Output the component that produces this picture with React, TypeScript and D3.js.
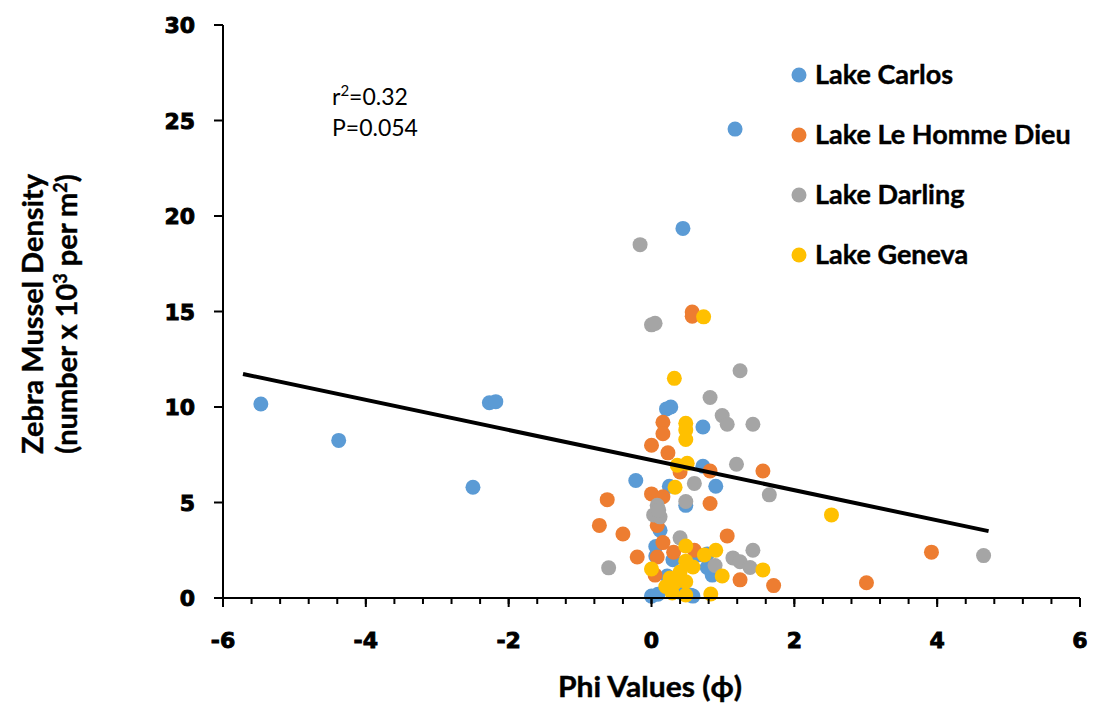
import React from "react";
import * as d3 from "d3";

type Pt = [number, number];

// Phi value vs. density (x10^3 per m^2) for each lake
const lakeCarlos: Pt[] = [
  [-5.47, 10.16], [-4.38, 8.25], [-2.5, 5.8], [-2.27, 10.22], [-2.18, 10.28],
  [1.17, 24.55], [0.44, 19.35], [0.21, 9.9], [0.27, 10.0], [-0.22, 6.15],
  [0.72, 8.95], [0.72, 6.9], [0.9, 5.85], [0.25, 5.85], [0.48, 4.85],
  [0.12, 3.55], [0.06, 2.7], [0.3, 2.0], [0.65, 2.25], [0.85, 1.2],
  [0.22, 1.15], [0.0, 0.1], [0.09, 0.2], [0.58, 0.1], [0.4, 0.3],
  [0.78, 2.3], [0.55, 0.15], [0.06, 2.2], [0.78, 1.6],
];

const lakeLeHommeDieu: Pt[] = [
  [0.57, 14.97], [0.57, 14.75], [0.16, 9.2], [0.16, 8.6], [0.0, 8.0],
  [0.23, 7.6], [0.4, 6.6], [0.82, 6.65], [1.56, 6.65], [-0.62, 5.15],
  [0.0, 5.45], [0.16, 5.3], [0.82, 4.95], [-0.73, 3.8], [-0.4, 3.35],
  [0.08, 3.8], [1.06, 3.25], [-0.2, 2.15], [0.16, 2.9], [0.08, 2.15],
  [0.31, 2.4], [1.24, 0.95], [1.71, 0.65], [3.92, 2.4], [3.01, 0.8],
  [0.05, 1.2], [0.6, 2.5],
];

const lakeDarling: Pt[] = [
  [-0.16, 18.5], [0.0, 14.3], [0.05, 14.38], [1.24, 11.9], [0.82, 10.5],
  [0.99, 9.55], [1.06, 9.1], [1.42, 9.1], [1.19, 7.0], [1.65, 5.4],
  [0.6, 6.0], [0.48, 5.05], [0.08, 4.85], [0.03, 4.35], [0.12, 4.25],
  [0.1, 4.6], [0.4, 3.15], [-0.6, 1.58], [1.42, 2.5], [1.14, 2.1],
  [1.24, 1.9], [1.38, 1.6], [0.89, 1.7], [4.65, 2.22],
];

const lakeGeneva: Pt[] = [
  [0.73, 14.72], [0.32, 11.5], [0.48, 9.15], [0.48, 8.8], [0.48, 8.3],
  [0.36, 6.95], [0.5, 7.05], [0.33, 5.8], [2.52, 4.35], [0.48, 2.72],
  [0.9, 2.5], [0.74, 2.25], [0.0, 1.52], [0.48, 1.93], [0.58, 1.62],
  [1.56, 1.47], [0.99, 1.15], [0.4, 1.36], [0.26, 1.05], [0.33, 0.8],
  [0.48, 0.85], [0.29, 0.26], [0.48, 0.16], [0.83, 0.21], [0.2, 0.6],
];

const seriesNames = ["Lake Carlos", "Lake Le Homme Dieu", "Lake Darling", "Lake Geneva"];
const seriesColors = ["#5B9BD5", "#ED7D31", "#A5A5A5", "#FFC000"];
const seriesData = [lakeCarlos, lakeLeHommeDieu, lakeDarling, lakeGeneva];

// Linear fit across all lakes
const trendSlope = -0.788;
const trendIntercept = 7.22;
const trendRange = [-5.72, 4.72];

const xTicks = [-6, -4, -2, 0, 2, 4, 6];
const yTicks = [0, 5, 10, 15, 20, 25, 30];
const xMinorStep = 0.4;

export default function App() {
  const width = 1097;
  const height = 706;
  const x = d3.scaleLinear().domain([-6, 6]).range([223, 1080]);
  const y = d3.scaleLinear().domain([0, 30]).range([598, 25]);

  const minorTicks = d3.range(-6, 6 + 1e-9, xMinorStep);
  const trendLine = d3
    .line<number>()
    .x((d) => x(d))
    .y((d) => y(trendSlope * d + trendIntercept));

  const tickFont = "'DejaVu Sans', Verdana, sans-serif";
  const labelFont = "Lato, 'Open Sans', sans-serif";

  return (
    <svg
      width={width}
      height={height}
      style={{ position: "absolute", left: 0, top: 0, background: "#fff" }}
    >
      {/* points */}
      {seriesData.map((pts, si) => (
        <g key={si} fill={seriesColors[si]}>
          {pts.map((p, i) => (
            <circle key={i} cx={x(p[0])} cy={y(p[1])} r={7.5} />
          ))}
        </g>
      ))}

      {/* trendline */}
      <path d={trendLine(trendRange) ?? ""} stroke="#000" strokeWidth={4} fill="none" />

      {/* axes */}
      <g stroke="#000" strokeWidth={2}>
        <line x1={x(-6)} x2={x(6)} y1={y(0)} y2={y(0)} />
        <line x1={x(-6)} x2={x(-6)} y1={y(0)} y2={y(30)} />
        {minorTicks.map((t, i) => (
          <line key={"m" + i} x1={x(t)} x2={x(t)} y1={y(0)} y2={y(0) + 6} />
        ))}
        {xTicks.map((t) => (
          <line key={"x" + t} x1={x(t)} x2={x(t)} y1={y(0)} y2={y(0) + 9} />
        ))}
        {yTicks.map((t) => (
          <line key={"y" + t} x1={x(-6) - 9} x2={x(-6)} y1={y(t)} y2={y(t)} />
        ))}
      </g>

      {/* tick labels */}
      <g
        fontFamily={tickFont}
        fontWeight="bold"
        fontSize={22}
        fill="#000"
        stroke="#000"
        strokeWidth={0.9}
      >
        {xTicks.map((t) => (
          <text key={t} x={x(t)} y={648} textAnchor="middle">
            {t}
          </text>
        ))}
        {yTicks.map((t) => (
          <text key={t} x={195} y={y(t) + 8} textAnchor="end">
            {t}
          </text>
        ))}
      </g>

      {/* axis titles */}
      <text
        x={650}
        y={697}
        textAnchor="middle"
        fontFamily={labelFont}
        fontWeight="bold"
        fontSize={28}
        textLength={184}
        lengthAdjust="spacingAndGlyphs"
        stroke="#000"
        strokeWidth={0.4}
      >
        Phi Values (ϕ)
      </text>
      <g
        transform="translate(0,314) rotate(-90)"
        fontFamily={labelFont}
        fontWeight="bold"
        fontSize={29}
        stroke="#000"
        strokeWidth={0.4}
      >
        <text x={0} y={43} textAnchor="middle">
          Zebra Mussel Density
        </text>
        <text x={0} y={77} textAnchor="middle">
          (number x 10<tspan dy={-10} fontSize={18}>3</tspan>
          <tspan dy={10}> per m</tspan>
          <tspan dy={-10} fontSize={18}>2</tspan>
          <tspan dy={10}>)</tspan>
        </text>
      </g>

      {/* statistics */}
      <g fontFamily={labelFont} fontSize={23} fill="#000">
        <text x={332} y={105}>
          r<tspan dy={-9} fontSize={15}>2</tspan>
          <tspan dy={9}>=0.32</tspan>
        </text>
        <text x={332} y={136}>P=0.054</text>
      </g>

      {/* legend */}
      {seriesNames.map((name, i) => (
        <g key={name} transform={`translate(799,${75 + i * 60})`}>
          <circle cx={0} cy={0} r={7.5} fill={seriesColors[i]} />
          <text
            x={16}
            y={9}
            fontFamily={labelFont}
            fontWeight="bold"
            fontSize={27}
            stroke="#000"
            strokeWidth={0.4}
          >
            {name}
          </text>
        </g>
      ))}
    </svg>
  );
}
